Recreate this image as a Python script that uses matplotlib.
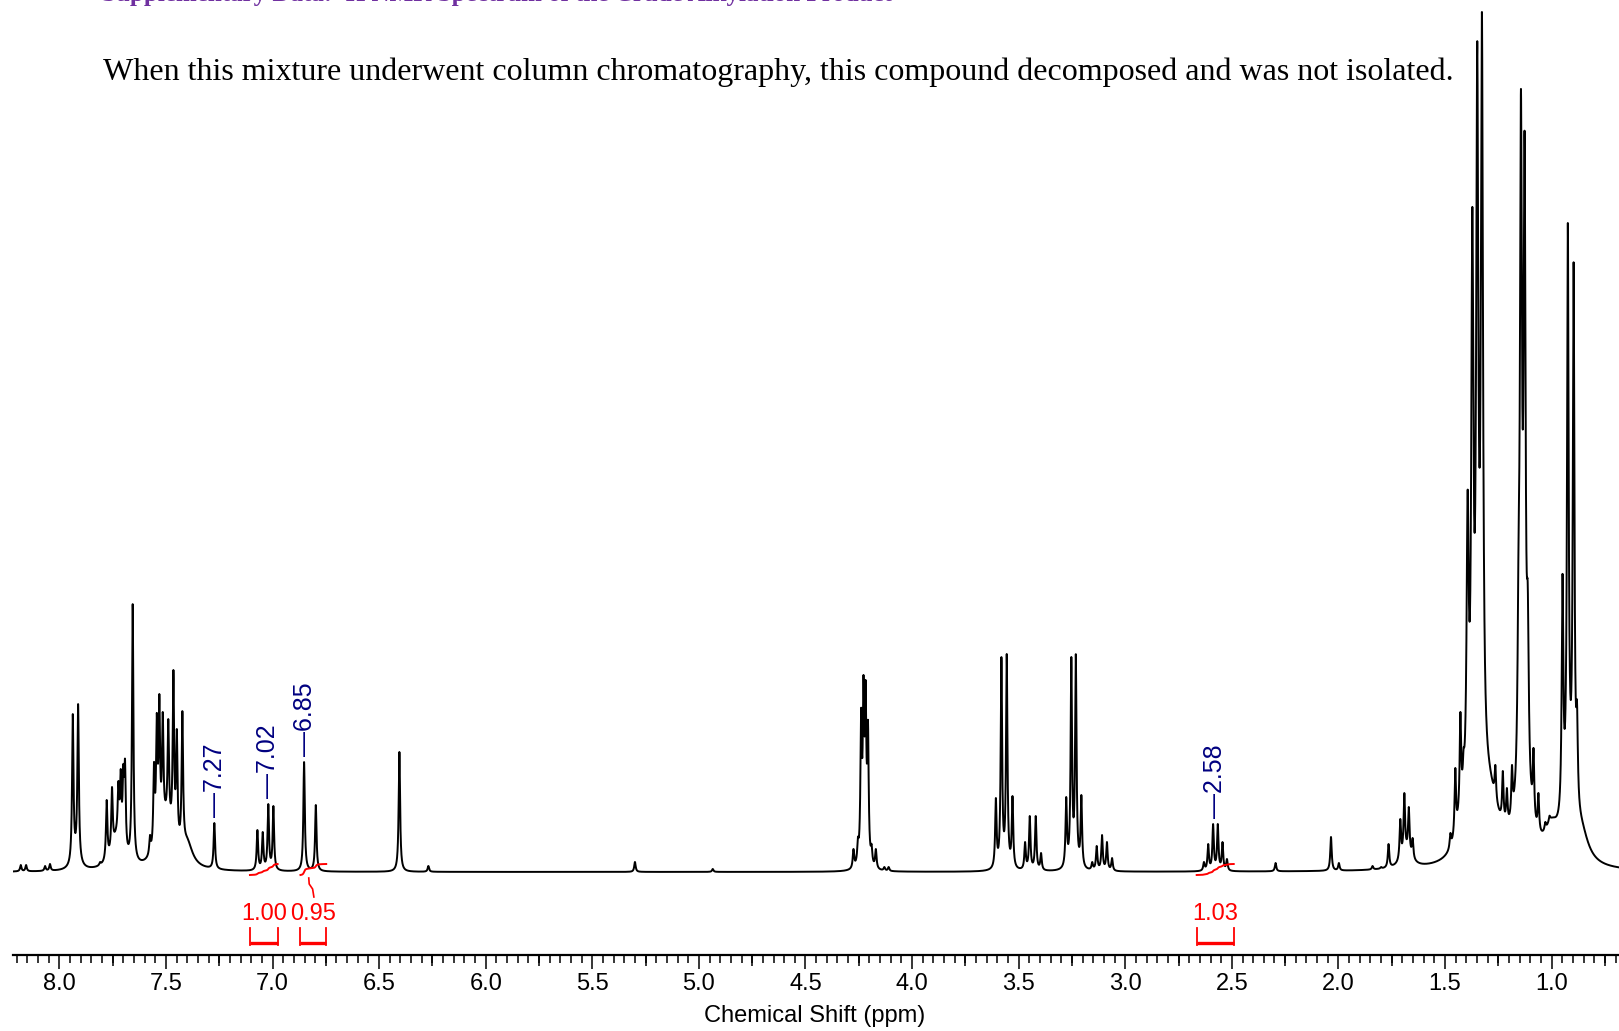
import numpy as np
import matplotlib
matplotlib.use("Agg")
import matplotlib.pyplot as plt

W, H = 1619, 1031
plt.rcParams["font.family"] = ["Liberation Sans", "DejaVu Sans"]

ppm = [8.181, 8.156, 8.067, 8.044, 7.937, 7.912, 7.809, 7.778, 7.753, 7.723, 7.712, 7.700, 7.692,
       7.656, 7.575, 7.556, 7.543, 7.531, 7.515, 7.489, 7.465, 7.449, 7.423, 7.273,
       7.071, 7.046, 7.020, 6.996, 6.852, 6.797, 6.405, 6.269, 5.300, 4.935,
       4.275, 4.254, 4.239, 4.228, 4.218, 4.207, 4.190, 4.170, 4.130, 4.110,
       3.607, 3.581, 3.556, 3.529, 3.470, 3.448, 3.420, 3.395,
       3.277, 3.253, 3.232, 3.206, 3.155, 3.134, 3.109, 3.086, 3.062,
       2.631, 2.611, 2.588, 2.566, 2.544, 2.523, 2.295, 2.035, 1.998, 1.840, 1.800,
       1.765, 1.710, 1.691, 1.670, 1.652, 1.475, 1.452, 1.428, 1.413,
       1.394, 1.372, 1.349, 1.327, 1.264, 1.229, 1.210, 1.186,
       1.155, 1.144, 1.127, 1.112, 1.085, 1.062, 1.030, 1.010, 0.990,
       0.949, 0.924, 0.897, 0.881]
height = [7, 7, 6, 8, 158, 168, 10, 72, 85, 91, 103, 108, 113,
          268, 37, 110, 159, 178, 160, 153, 202, 143, 161, 49,
          42, 40, 68, 66, 110, 67, 120, 6, 10, 3,
          23, 35, 164, 197, 192, 152, 28, 23, 5, 5,
          74, 215, 218, 76, 30, 56, 56, 19,
          75, 215, 218, 77, 10, 26, 37, 30, 14,
          10, 28, 48, 48, 30, 13, 9, 35, 9, 6, 5,
          28, 53, 79, 65, 34, 39, 104, 160, 124,
          382, 665, 831, 860, 107, 101, 84, 107,
          340, 783, 741, 287, 124, 79, 50, 56, 48,
          298, 649, 610, 171]
width = [0.004] * 81 + [0.006] * 4 + [0.004] * 4 + [0.0055] * 4 + [0.004] * 5 + [0.0045] * 4
# humps under the crowded multiplets
broad_ppm = [7.92, 7.73, 7.50, 7.40, 1.68, 1.42, 1.30, 1.13, 1.00, 0.92, 0.86]
broad_height = [10, 30, 45, 22, 15, 30, 70, 45, 30, 40, 25]
broad_width = [0.02, 0.03, 0.04, 0.03, 0.03, 0.03, 0.06, 0.04, 0.04, 0.035, 0.04]

label_ppm = [7.27, 7.02, 6.85, 2.58]
integ_from = [7.106, 6.869, 2.665]
integ_to = [6.976, 6.748, 2.491]
integ_text = ["1.00", "0.95", "1.03"]

title = "When this mixture underwent column chromatography, this compound decomposed and was not isolated."
heading = "Supplementary Data: \u00b9H NMR Spectrum of the Crude Alkylation Product"


def lor(x, p, w):
    return w ** 2 / ((x - p) ** 2 + w ** 2)


x = np.linspace(8.216, 0.684, 30000)
p = np.array(ppm); h = np.array(height, float); w = np.array(width)
bp = np.array(broad_ppm); bh = np.array(broad_height, float); bw = np.array(broad_width)

# solve for line amplitudes so the summed trace hits the read heights
M = lor(p[:, None], p[None, :], w[None, :])
base_at = (bh[None, :] * lor(p[:, None], bp[None, :], bw[None, :])).sum(1)
amp = np.clip(np.linalg.solve(M, h - base_at), 0, None)
y = (amp[None, :] * lor(x[:, None], p[None, :], w[None, :])).sum(1)
y += (bh[None, :] * lor(x[:, None], bp[None, :], bw[None, :])).sum(1)

fig = plt.figure(figsize=(W / 100, H / 100), dpi=100)
ax = fig.add_axes([13.3 / W, 1 - 955 / H, 1 - 13.3 / W, 955 / H])
ax.plot(x, y, color="black", lw=1.4)
ax.set_xlim(8.216, 0.684)
ax.set_ylim(-83, 872)

# peak labels
for lp in label_ppm:
    m = np.abs(x - lp) < 0.03
    ax.text(lp, y[m].max() + 6, "\u2014" + f"{lp:.2f}", rotation=90, ha="center", va="bottom",
            fontsize=18, color="#000080")

# integrals
for a, b, t in zip(integ_from, integ_to, integ_text):
    m = (x <= a) & (x >= b)
    c = np.cumsum(y[m]); c = (c - c[0]) / (c[-1] - c[0])
    ax.plot(x[m], -3 + 11 * c, color="red", lw=1.4)
    ax.plot([a, b], [-71, -71], color="red", lw=2.4, solid_capstyle="butt")
    ax.plot([a, a], [-73, -56], color="red", lw=1.3)
    ax.plot([b, b], [-73, -56], color="red", lw=1.3)
    ax.text((a + b) / 2, -42, t, ha="center", va="center", fontsize=17, color="red")
# leader from the 0.95 integral down to its label
ax.plot([6.830, 6.828, 6.812, 6.806], [-6, -12, -17, -25], color="red", lw=1.2)

for s in ("top", "left", "right"):
    ax.spines[s].set_visible(False)
ax.spines["bottom"].set_linewidth(1.6)
ax.set_yticks([])
ax.set_xticks(np.arange(1.0, 8.01, 0.5))
ax.set_xticklabels([f"{v:.1f}" for v in np.arange(1.0, 8.01, 0.5)], fontsize=17)
ax.set_xticks(np.arange(0.70, 8.21, 0.05), minor=True)
ax.tick_params(axis="x", which="major", length=10, width=1.1, pad=3)
ax.tick_params(axis="x", which="minor", length=5.5, width=1.1)
sec = ax.secondary_xaxis("bottom")
sec.set_xticks(np.arange(0.75, 8.0, 0.5))
sec.set_xticklabels([])
sec.tick_params(length=8, width=1.1)
sec.spines["bottom"].set_visible(False)
ax.set_xlabel("Chemical Shift (ppm)", fontsize=17)
ax.xaxis.set_label_coords(0.4993, -61 / 955)
ax.xaxis.label.set_va("center")

fig.text(103 / W, 1 - 80 / H, title, fontsize=23.0, family="Liberation Serif", va="baseline")
fig.text(102 / W, 1 - 1.5 / H, heading, fontsize=18, family="Liberation Serif", weight="bold",
         color="#7030A0", va="baseline")

fig.savefig("out.png", dpi=100)
